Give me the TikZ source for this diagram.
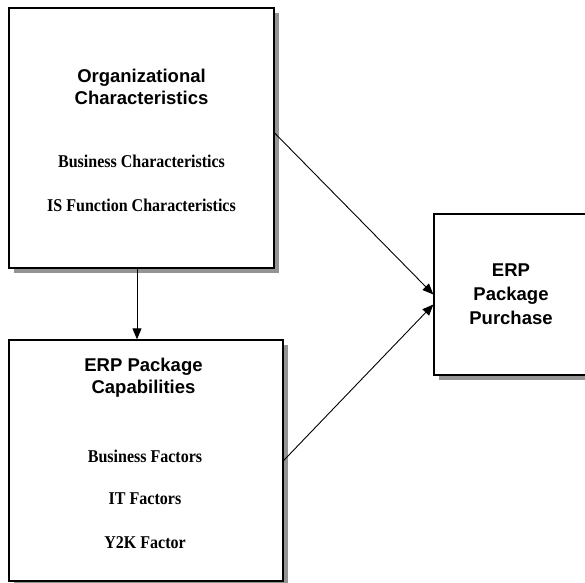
\documentclass[tikz,border=0pt]{standalone}
\usepackage{fontspec}
\setmainfont{Liberation Serif}
\newfontfamily\headfont{Liberation Sans}
\newfontfamily\itemfont[FakeStretch=0.89]{Liberation Serif}
\usetikzlibrary{arrows.meta,shadows}
\begin{document}
\begin{tikzpicture}[x=1pt,y=-1pt,
  box/.style={draw=black, line width=1.3pt, fill=white, rectangle, inner sep=0pt,
    drop shadow={shadow xshift=4.5pt, shadow yshift=-4.5pt, fill=black!42, opacity=1}},
  head/.style={font=\headfont\bfseries\fontsize{18.5}{22}\selectfont, anchor=base, inner sep=0pt},
  item/.style={font=\itemfont\bfseries\fontsize{18}{22}\selectfont, anchor=base, inner sep=0pt},
  arr/.style={-{Triangle[length=11pt,width=9pt]}, line width=0.9pt}]
\useasboundingbox (0,0) rectangle (585,582);
\clip (0,0) rectangle (585,582);
\fill[white] (0,0) rectangle (585,582);

% boxes
\node[box, minimum width=265pt, minimum height=260pt] (b1) at (141.5,138) {};
\node[box, minimum width=274pt, minimum height=241pt] (b2) at (146,460.5) {};
\node[box, minimum width=154pt, minimum height=161pt] (b3) at (511,294.5) {};

% box 1 texts
\node[head] (h1a) at (141.5,82) {Organizational};
\node[head] (h1b) at (141.5,104.5) {Characteristics};
\node[item] (i1a) at (141.5,167) {Business Characteristics};
\node[item] (i1b) at (141.5,211) {IS Function Characteristics};

% box 2 texts
\node[head] (h2a) at (143.5,371) {ERP Package};
\node[head] (h2b) at (143.5,393.5) {Capabilities};
\node[item] (i2a) at (145,462) {Business Factors};
\node[item] (i2b) at (145,504) {IT Factors};
\node[item] (i2c) at (145,548) {Y2K Factor};

% box 3 texts
\node[head] (h3a) at (511,276) {ERP};
\node[head] (h3b) at (511,300) {Package};
\node[head] (h3c) at (511,324) {Purchase};

% connectors
\draw[arr] ([yshift=5pt]b1.east) -- (b3.west);
\draw[arr] (b2.east) -- ([yshift=-10pt]b3.west);
\draw[arr] ([xshift=-4.5pt]b1.south) -- ([xshift=-4.5pt]b1.south |- b2.north);
\end{tikzpicture}
\end{document}
